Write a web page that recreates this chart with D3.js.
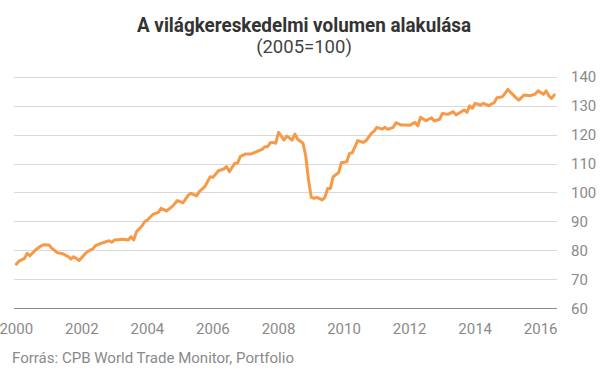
<!DOCTYPE html>
<html><head><meta charset="utf-8">
<script src="https://cdn.jsdelivr.net/npm/d3@7"></script>
<style>
html,body{margin:0;padding:0;background:#fff;}
svg{display:block;font-family:Roboto,"Noto Sans",sans-serif;}
</style></head>
<body>
<svg id="chart" width="605" height="378"></svg>
<script>
const title = "A világkereskedelmi volumen alakulása";
const subtitle = "(2005=100)";
const source = "Forrás: CPB World Trade Monitor, Portfolio";

const months = ["2000-01","2000-02","2000-04","2000-05","2000-06","2000-08","2000-10","2000-11",
"2001-01","2001-02","2001-04","2001-06","2001-08","2001-09","2001-10","2001-11","2001-12",
"2002-02","2002-03","2002-05","2002-06","2002-08","2002-11","2002-12",
"2003-01","2003-04","2003-06","2003-07","2003-08","2003-09","2003-11","2003-12",
"2004-01","2004-03","2004-05","2004-06","2004-08","2004-10","2004-12",
"2005-01","2005-02","2005-04","2005-05","2005-07","2005-08","2005-10","2005-12",
"2006-01","2006-03","2006-05","2006-06","2006-07","2006-09","2006-10","2006-11",
"2007-01","2007-03","2007-05","2007-07","2007-08","2007-09","2007-10","2007-11","2007-12",
"2008-01","2008-02","2008-03","2008-04","2008-06","2008-07","2008-08","2008-10","2008-11","2008-12",
"2009-01","2009-02","2009-03","2009-05","2009-06","2009-07","2009-08","2009-09","2009-11","2009-12",
"2010-02","2010-03","2010-04","2010-06","2010-08","2010-09","2010-11","2010-12",
"2011-01","2011-03","2011-04","2011-05","2011-07","2011-08","2011-10","2011-11",
"2012-01","2012-03","2012-04","2012-05","2012-07","2012-09","2012-10","2012-12",
"2013-01","2013-03","2013-05","2013-06","2013-09","2013-10","2013-11","2013-12",
"2014-01","2014-03","2014-04","2014-06","2014-08","2014-09","2014-11","2014-12",
"2015-01","2015-02","2015-04","2015-05","2015-07","2015-09","2015-11","2015-12",
"2016-02","2016-03","2016-04","2016-05","2016-06"];

const volume = [75.2,76.3,77.2,79.0,78.1,80.1,81.5,81.9,
81.8,80.7,79.2,78.8,77.8,77.0,77.8,77.2,76.5,
78.6,79.5,80.5,81.6,82.4,83.3,82.8,
83.6,83.8,83.6,84.7,83.6,86.4,88.4,89.9,
90.5,92.4,93.1,94.5,93.6,95.1,97.2,
96.8,96.4,99.1,99.7,98.8,100.3,102.0,105.4,
105.2,107.5,108.1,108.9,107.2,110.1,110.1,112.4,
113.3,113.3,114.1,114.9,115.8,115.8,117.2,117.3,117.0,
120.8,119.5,118.1,119.5,118.1,120.2,118.4,117.0,112.4,104.3,
98.3,98.0,98.3,97.4,98.3,101.4,101.4,105.4,106.8,110.3,
110.6,113.5,113.7,117.9,117.3,117.8,120.4,121.2,
122.5,121.9,122.5,121.8,122.5,124.1,123.3,123.3,
123.2,124.2,123.0,126.0,124.8,125.8,124.7,125.3,
127.3,127.0,127.9,126.8,128.5,127.7,129.9,129.1,
130.8,130.2,130.8,130.0,131.1,132.7,133.1,134.3,
135.6,134.6,132.7,131.9,133.7,133.4,134.0,135.1,
133.9,135.1,133.4,132.5,133.7];

const yTicks = [60,70,80,90,100,110,120,130,140];
const xTicks = [2000,2002,2004,2006,2008,2010,2012,2014,2016];

const svg = d3.select("#chart");
const toYear = s => { const [y,m] = s.split("-").map(Number); return y + (m-1)/12; };
const data = months.map((m,i)=>({t:toYear(m), v:volume[i]}));

const x = d3.scaleLinear().domain([2000,2016]).range([16.3,540.7]);
const y = d3.scaleLinear().domain([60,140]).range([308.2,76.7]);
const plotL = 14, plotR = 557;

// gridlines
svg.append("g").selectAll("line").data(yTicks.filter(d=>d>60)).join("line")
  .attr("x1",plotL).attr("x2",plotR)
  .attr("y1",d=>Math.round(y(d))+0.5).attr("y2",d=>Math.round(y(d))+0.5)
  .attr("stroke","#d9d9d9").attr("stroke-width",1);
// baseline
svg.append("line").attr("x1",plotL).attr("x2",plotR)
  .attr("y1",Math.round(y(60))+0.5).attr("y2",Math.round(y(60))+0.5)
  .attr("stroke","#8c8c8c").attr("stroke-width",1);

// y labels
svg.append("g").selectAll("text").data(yTicks).join("text")
  .attr("x",571).attr("y",d=>y(d)).attr("dy","0.36em")
  .attr("font-size",15).attr("fill","#8a8a8a").text(d=>d);

// x labels
svg.append("g").selectAll("text").data(xTicks).join("text")
  .attr("x",d=>x(d)).attr("y",329).attr("dy","0.36em")
  .attr("text-anchor","middle").attr("font-size",15).attr("fill","#8a8a8a").text(d=>d);

// line
svg.append("path").datum(data)
  .attr("d", d3.line().x(d=>x(d.t)).y(d=>y(d.v)))
  .attr("fill","none").attr("stroke","#f79a48").attr("stroke-width",3)
  .attr("stroke-linejoin","round").attr("stroke-linecap","round");

// title
svg.append("text").attr("x",304).attr("y",32.3).attr("text-anchor","middle")
  .attr("font-size",20).attr("font-weight","bold").attr("fill","#333")
  .attr("textLength",334).attr("lengthAdjust","spacingAndGlyphs").text(title);
svg.append("text").attr("x",304).attr("y",52.7).attr("text-anchor","middle")
  .attr("font-size",18.5).attr("fill","#444").text(subtitle);

// source
svg.append("text").attr("x",12).attr("y",363)
  .attr("font-size",15).attr("fill","#8a8a8a")
  .attr("textLength",282).attr("lengthAdjust","spacingAndGlyphs").text(source);
</script>
</body></html>
